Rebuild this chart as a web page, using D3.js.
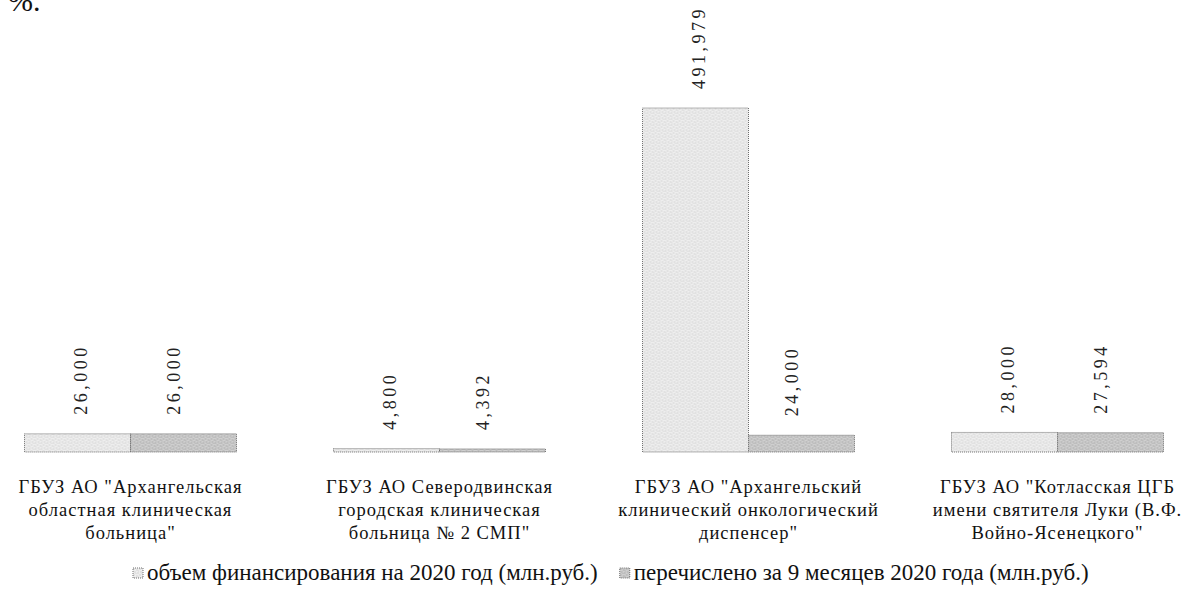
<!DOCTYPE html>
<html>
<head>
<meta charset="utf-8">
<script src="https://cdn.jsdelivr.net/npm/d3@7"></script>
<style>
  html, body { margin: 0; padding: 0; background: #fff; }
  svg { display: block; }
</style>
</head>
<body>
<svg id="chart" width="1190" height="595"></svg>
<script>
// ---- data ----
const categories = [
  "ГБУЗ АО \"Архангельская областная клиническая больница\"",
  "ГБУЗ АО Северодвинская городская клиническая больница № 2 СМП\"",
  "ГБУЗ АО \"Архангельский клинический онкологический диспенсер\"",
  "ГБУЗ АО \"Котласская ЦГБ имени святителя Луки (В.Ф. Войно-Ясенецкого\""
];
const categoryLines = [
  ["ГБУЗ АО \"Архангельская", "областная  клиническая", "больница\""],
  ["ГБУЗ АО Северодвинская", "городская клиническая", "больница  № 2 СМП\""],
  ["ГБУЗ АО \"Архангельский", "клинический  онкологический", "диспенсер\""],
  ["ГБУЗ АО \"Котласская  ЦГБ", "имени  святителя  Луки (В.Ф.", "Войно-Ясенецкого\""]
];
const seriesNames = [
  "объем финансирования на 2020 год (млн.руб.)",
  "перечислено за 9 месяцев 2020 года (млн.руб.)"
];
const plan2020 = [26.000, 4.800, 491.979, 28.000];
const paid9m   = [26.000, 4.392, 24.000, 27.594];
const headFragment = "%.";

const FONT = "\"Liberation Serif\"";

// ---- setup ----
const svg = d3.select("#chart");
const defs = svg.append("defs");

function stipple(id, base, dot) {
  const p = defs.append("pattern").attr("id", id)
    .attr("patternUnits", "userSpaceOnUse").attr("width", 6).attr("height", 6);
  p.append("rect").attr("width", 6).attr("height", 6).attr("fill", base);
  [[0.5,0.5],[3.5,1.5],[1.5,3.5],[4.5,4.5],[2.5,5.5],[5.5,2.5]].forEach(([x,y]) =>
    p.append("rect").attr("x", x).attr("y", y).attr("width", 1).attr("height", 1).attr("fill", dot));
}
stipple("pat0", "#eeeeee", "#bdbdbd");
stipple("pat1", "#cfcfcf", "#8a8a8a");
const fills = ["url(#pat0)", "url(#pat1)"];

const x0 = d3.scaleBand().domain(d3.range(categories.length))
  .range([-24, 1212]).paddingInner(0.314).paddingOuter(0.157);
const x1 = d3.scaleBand().domain([0, 1]).range([0, x0.bandwidth()]).padding(0);
const y = d3.scaleLinear().domain([0, 491.979]).range([452, 108]);

const rows = categories.map((c, i) => ({ i, vals: [plan2020[i], paid9m[i]] }));

const g = svg.selectAll("g.grp").data(rows).join("g")
  .attr("class", "grp")
  .attr("transform", d => `translate(${x0(d.i)},0)`);

g.selectAll("rect.bar").data(d => d.vals.map((v, s) => ({ v, s }))).join("rect")
  .attr("class", "bar")
  .attr("x", d => x1(d.s))
  .attr("y", d => y(d.v))
  .attr("width", x1.bandwidth())
  .attr("height", d => y(0) - y(d.v))
  .attr("fill", d => fills[d.s])
  .attr("stroke", "#6f6f6f")
  .attr("stroke-width", 1)
  .attr("stroke-dasharray", "1,1");

const fmt = v => d3.format(".3f")(v).replace(".", ",");
const labelShift = [3, -9];
g.selectAll("text.val").data(d => d.vals.map((v, s) => ({ v, s }))).join("text")
  .attr("class", "val")
  .attr("transform", d => `translate(${x1(d.s) + x1.bandwidth() / 2 + 6 + labelShift[d.s]},${y(d.v) - 19}) rotate(-90)`)
  .style("font-family", FONT)
  .attr("font-size", 18)
  .attr("letter-spacing", 3.5)
  .attr("fill", "#222")
  .text(d => fmt(d.v));

g.selectAll("text.cat").data(d => [d]).join("text")
  .attr("class", "cat")
  .style("font-family", FONT)
  .attr("text-anchor", "middle")
  .attr("font-size", 18.5)
  .attr("letter-spacing", 1)
  .attr("fill", "#111")
  .selectAll("tspan").data(d => categoryLines[d.i]).join("tspan")
  .attr("x", x0.bandwidth() / 2)
  .attr("y", (d, k) => 493 + k * 23)
  .text(d => d);

// legend
const lg = svg.selectAll("g.leg").data(seriesNames).join("g").attr("class", "leg");
lg.append("rect").attr("x", 0).attr("y", -12).attr("width", 10).attr("height", 10)
  .attr("fill", (d, i) => fills[i]).attr("stroke", "#6f6f6f").attr("stroke-width", 1)
  .attr("stroke-dasharray", "1,1");
lg.append("text").attr("x", 14).attr("y", 0).attr("font-size", 23)
  .style("font-family", FONT).attr("fill", "#111")
  .text(d => d);
let lx = 133;
lg.each(function () {
  d3.select(this).attr("transform", `translate(${lx},580)`);
  lx += this.getBBox().width + 22;
});

svg.append("text").attr("x", 8).attr("y", 11).attr("font-size", 30)
  .style("font-family", FONT).attr("fill", "#111").text(headFragment);
</script>
</body>
</html>
